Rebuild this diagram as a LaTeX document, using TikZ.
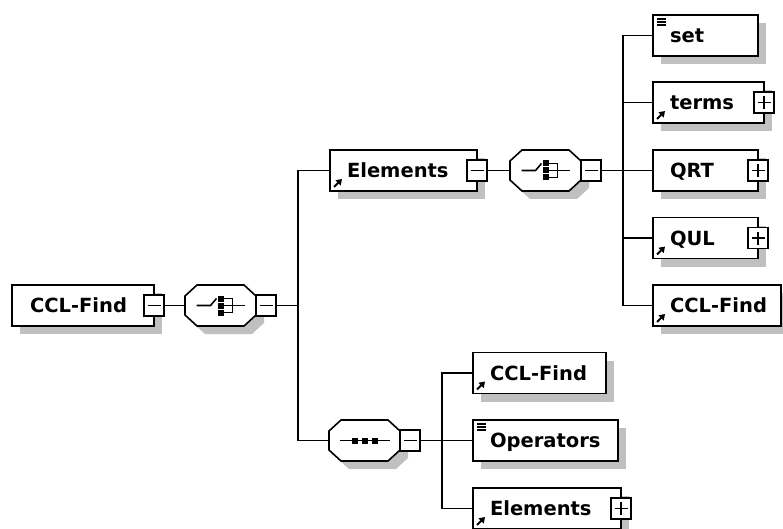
\documentclass[tikz,border=0pt]{standalone}
\usepackage{fontspec}
\setmainfont{DejaVu Sans}
\usetikzlibrary{calc,shadows,arrows.meta}
\definecolor{shadowc}{HTML}{C0C0C0}
\newcommand\octshape[3]{%
  ($(#1.north west)+(12+#2,#3)$) -- ($(#1.north east)+(-12+#2,#3)$) --
  ($(#1.north east)+(#2,11+#3)$) -- ($(#1.south east)+(#2,-11+#3)$) --
  ($(#1.south east)+(-12+#2,#3)$) -- ($(#1.south west)+(12+#2,#3)$) --
  ($(#1.south west)+(#2,-11+#3)$) -- ($(#1.north west)+(#2,11+#3)$) -- cycle}
\newcommand\drawoct[1]{%
  \fill[shadowc] \octshape{#1}{8}{8};
  \draw[octline] \octshape{#1}{0}{0};}
\newcommand\choicesym[1]{%
  \draw[symline] ($(#1.center)+(-24,0)$) -- ++(14,0) -- ++(6,-7);
  \foreach \yy in {-7,0,7}{\fill ($(#1.center)+(-3,\yy-3)$) rectangle ++(6,6);}
  \draw[symline] ($(#1.center)+(3,-7)$) -- ++(9,0) -- ++(0,14) -- ++(-9,0);
  \draw[symline] ($(#1.center)+(3,0)$) -- ++(21,0);}
\newcommand\seqsym[1]{%
  \draw[symline] ($(#1.center)+(-25,0)$) -- ++(50,0);
  \foreach \xx in {-10,0,10}{\fill ($(#1.center)+(\xx-3,-3)$) rectangle ++(6,6);}}
\newcommand\refmark[1]{%
  \draw[line width=1.8pt,-{Triangle[length=5.5pt,width=7pt]}] ($(#1.south west)+(4,-4)$) -- ($(#1.south west)+(12,-12)$);}
\newcommand\docmark[1]{%
  \foreach \kk in {4,7,10}{\draw[line width=1.2pt] ($(#1.north west)+(4,\kk)$) -- ++(9,0);}}
\begin{document}
\begin{tikzpicture}[x=1pt,y=-1pt,
  every node/.style={inner sep=0pt,outer sep=0pt},
  elembox/.style={draw=black,fill=white,line width=1.6pt,minimum height=41pt,
    general shadow={fill=shadowc,shadow xshift=8pt,shadow yshift=-8pt}},
  ntext/.style={font=\bfseries\fontsize{19.5}{19.5}\selectfont,anchor=base west},
  octbox/.style={minimum width=71pt,minimum height=41pt},
  octline/.style={draw=black,fill=white,line width=1.6pt},
  symline/.style={line width=1.6pt},
  expbox/.style={draw=black,fill=white,line width=1.4pt,minimum width=20pt,minimum height=21pt},
  minusbox/.style={expbox,path picture={\draw[line width=1.3pt]
    ([xshift=-6.5pt]path picture bounding box.center) -- ([xshift=6.5pt]path picture bounding box.center);}},
  plusbox/.style={expbox,path picture={\draw[line width=1.3pt]
    ([xshift=-6.5pt]path picture bounding box.center) -- ([xshift=6.5pt]path picture bounding box.center)
    ([yshift=-6.5pt]path picture bounding box.center) -- ([yshift=6.5pt]path picture bounding box.center);}},
  conn/.style={line width=1.4pt},
]
\useasboundingbox (0,0) rectangle (783,529);
\clip (0,0) rectangle (783,529);

% root
\node[elembox,minimum width=142pt] (root) at (83,305.5) {};
\node[ntext] (root-t) at ($(root.west)+(18,7)$) {CCL-Find};
\node[minusbox] (root-x) at (root.east) {};

% choice 1
\node[octbox] (oct1) at (220.5,305.5) {};
\drawoct{oct1}
\choicesym{oct1}
\node[minusbox,anchor=west] (oct1-x) at (oct1.east) {};

% Elements (upper)
\node[elembox,minimum width=147pt] (elem1) at (403.5,170.5) {};
\node[ntext] (elem1-t) at ($(elem1.west)+(17,7)$) {Elements};
\refmark{elem1}
\node[minusbox] (elem1-x) at (elem1.east) {};

% choice 2
\node[octbox] (oct2) at (545.5,170.5) {};
\drawoct{oct2}
\choicesym{oct2}
\node[minusbox,anchor=west] (oct2-x) at (oct2.east) {};

% right column
\node[elembox,minimum width=105pt] (set) at (705.5,35.5) {};
\node[ntext] (set-t) at ($(set.west)+(17,7)$) {set};
\docmark{set}

\node[elembox,minimum width=111pt] (terms) at (708.5,102.5) {};
\node[ntext] (terms-t) at ($(terms.west)+(17,7)$) {terms};
\refmark{terms}
\node[plusbox] (terms-x) at (terms.east) {};

\node[elembox,minimum width=105pt] (qrt) at (705.5,170.5) {};
\node[ntext] (qrt-t) at ($(qrt.west)+(17,7)$) {QRT};
\node[plusbox] (qrt-x) at (qrt.east) {};

\node[elembox,minimum width=105pt] (qul) at (705.5,238) {};
\node[ntext] (qul-t) at ($(qul.west)+(17,7)$) {QUL};
\refmark{qul}
\node[plusbox] (qul-x) at (qul.east) {};

\node[elembox,minimum width=128pt] (ccl2) at (717,305.5) {};
\node[ntext] (ccl2-t) at ($(ccl2.west)+(17,7)$) {CCL-Find};
\refmark{ccl2}

% sequence
\node[octbox] (oct3) at (364.5,440.5) {};
\drawoct{oct3}
\seqsym{oct3}
\node[minusbox,anchor=west] (oct3-x) at (oct3.east) {};

% bottom column
\node[elembox,minimum width=133pt] (cclb) at (539.5,373) {};
\node[ntext] (cclb-t) at ($(cclb.west)+(17,7)$) {CCL-Find};
\refmark{cclb}

\node[elembox,minimum width=145pt] (ops) at (545.5,440.5) {};
\node[ntext] (ops-t) at ($(ops.west)+(17,7)$) {Operators};
\docmark{ops}

\node[elembox,minimum width=148pt] (elemb) at (547,508.5) {};
\node[ntext] (elemb-t) at ($(elemb.west)+(17,7)$) {Elements};
\refmark{elemb}
\node[plusbox] (elemb-x) at (elemb.east) {};

% connectors
\coordinate (j1) at (298,305.5);
\coordinate (j2) at (623,170.5);
\coordinate (j3) at (442,440.5);
\draw[conn] (root-x.east) -- (oct1.west);
\draw[conn] (oct1-x.east) -- (j1);
\draw[conn] (elem1.west) -| (j1);
\draw[conn] (j1) |- (oct3.west);
\draw[conn] (elem1-x.east) -- (oct2.west);
\draw[conn] (oct2-x.east) -- (j2);
\draw[conn] (set.west) -| (j2) |- (ccl2.west);
\draw[conn] (terms.west) -- (terms.west -| j2);
\draw[conn] (qrt.west) -- (j2);
\draw[conn] (qul.west) -- (qul.west -| j2);
\draw[conn] (oct3-x.east) -- (j3);
\draw[conn] (cclb.west) -| (j3) |- (elemb.west);
\draw[conn] (ops.west) -- (j3);
\end{tikzpicture}
\end{document}
